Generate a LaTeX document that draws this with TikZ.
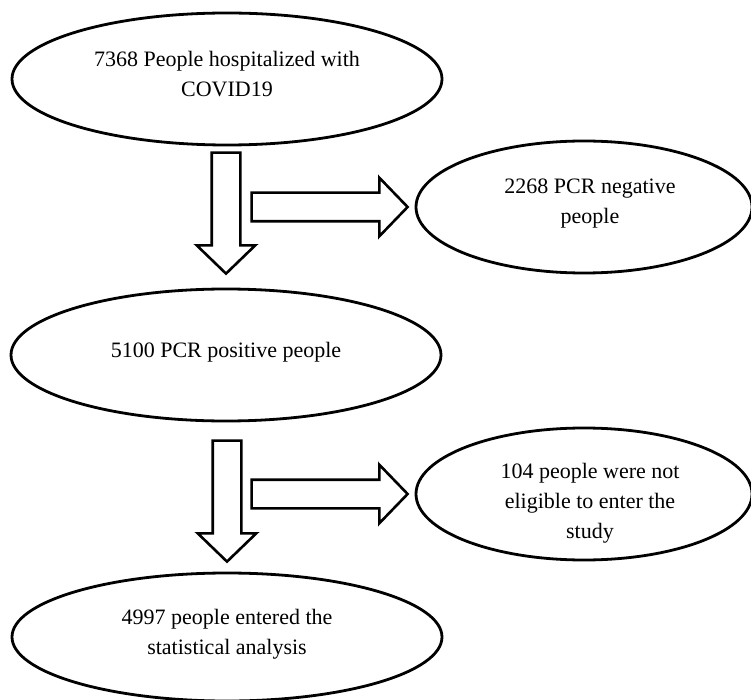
\documentclass[tikz,border=0pt]{standalone}
\usepackage{fontspec}
\setmainfont{Liberation Serif}
\usetikzlibrary{shapes.geometric,shapes.arrows}

\begin{document}
\begin{tikzpicture}[x=1pt,y=-1pt,line join=round,
	box/.style={draw,ellipse,line width=2.8pt,minimum width=430pt,minimum height=132pt,inner sep=0pt},
	sidebox/.style={box,minimum width=336pt},
	txt/.style={align=center,inner sep=0pt,font=\fontsize{22}{30}\selectfont},
	blockarrow/.style={draw,single arrow,line width=2.6pt,line join=miter,inner xsep=0pt,inner ysep=13pt,outer sep=0pt,minimum width=56pt,single arrow head extend=15pt,single arrow tip angle=92}]
	\useasboundingbox (0,0) rectangle (751,700);
	\node[box] (total) at (227,79) {};
	\node[sidebox] (neg) at (584,207) {};
	\node[box] (pos) at (226,355) {};
	\node[sidebox] (excl) at (584,494) {};
	\node[box,minimum height=128pt] (final) at (227,637) {};
	\node[txt] (totaltext) at (227,74) {7368 People hospitalized with\\COVID19};
	\node[txt] (negtext) at (590,204) {2268 PCR negative\\people};
	\node[txt] (postext) at (226,352) {5100 PCR positive people};
	\node[txt] (excltext) at (590,503) {104 people were not\\eligible to enter the\\study};
	\node[txt] (finaltext) at (227,634) {4997 people entered the\\statistical analysis};
	\node[blockarrow,rotate=-90,minimum height=121pt,anchor=tip] (down1) at ([yshift=14pt]pos.north) {};
	\node[blockarrow,minimum height=156pt,anchor=tip] (right1) at ([xshift=-7pt]neg.west) {};
	\node[blockarrow,rotate=-90,minimum height=121pt,anchor=tip] (down2) at ([yshift=10pt]final.north) {};
	\node[blockarrow,minimum height=156pt,anchor=tip] (right2) at ([xshift=-7pt]excl.west) {};
\end{tikzpicture}
\end{document}
